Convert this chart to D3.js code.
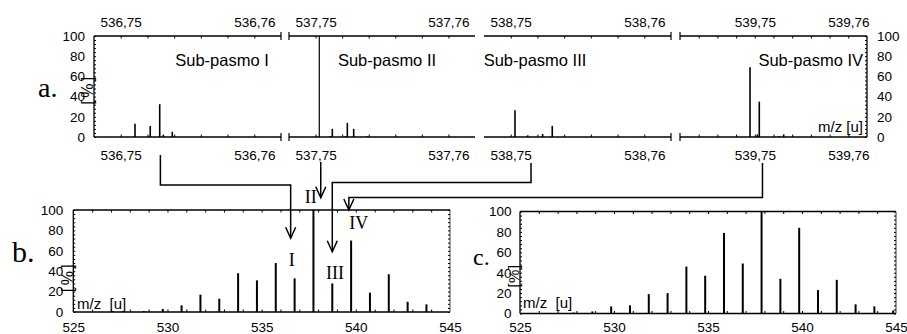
<!DOCTYPE html>
<html><head><meta charset="utf-8">
<script src="https://cdn.jsdelivr.net/npm/d3@7"></script>
<style>body{margin:0;background:#fff}svg{display:block}</style></head>
<body>
<script>
// ---------- DATA ----------
const seg1Mz  = [536.75107, 536.75221, 536.75292, 536.75319, 536.75386];
const seg1Int = [13, 10.8, 32.5, 2.3, 5.2];
const seg2Mz  = [537.75028, 537.75109, 537.75126, 537.75224, 537.75239, 537.75287, 537.75387];
const seg2Int = [100, 1, 8, 1, 14, 8, 0.7];
const seg3Mz  = [538.75032, 538.75127, 538.75239, 538.75311];
const seg3Int = [26.5, 1.7, 3, 11];
const seg4Mz  = [539.74949, 539.75027, 539.75048, 539.75262, 539.75309];
const seg4Int = [69, 2.6, 35, 1, 2.6];
const subTitles = ["Sub-pasmo I", "Sub-pasmo II", "Sub-pasmo III", "Sub-pasmo IV"];
const segTickValues = [[536.75, 536.76], [537.75, 537.76], [538.75, 538.76], [539.75, 539.76]];
const segTickLabels = [["536,75", "536,76"], ["537,75", "537,76"], ["538,75", "538,76"], ["539,75", "539,76"]];

const bMz  = [528.75, 529.75, 530.75, 531.75, 532.75, 533.75, 534.75, 535.75, 536.75, 537.75, 538.75, 539.75, 540.75, 541.75, 542.75, 543.75];
const bInt = [1, 3, 6.5, 17, 13, 38, 31, 48, 33, 100, 28, 70, 19, 37, 10, 7.5];
const cMz  = [527.85, 528.85, 529.85, 530.85, 531.85, 532.85, 533.85, 534.85, 535.85, 536.85, 537.85, 538.85, 539.85, 540.85, 541.85, 542.85, 543.85, 544.85];
const cInt = [1, 2, 7, 8, 19, 20, 46, 37, 79, 49, 100, 34, 84, 23, 33, 9, 7, 3];
const yTicks = [0, 20, 40, 60, 80, 100];
const mzTicks = [525, 530, 535, 540, 545];
const romanLabels = ["I", "II", "III", "IV"];
const yUnit = "[%]";
const xUnit = "m/z [u]";
const xUnitBottom = "m/z  [u]";
const panelLetters = ["a.", "b.", "c."];

// ---------- SETUP ----------
const W = 907, H = 334;
const sans = "'Liberation Sans', Arial, sans-serif";
const serif = "'Liberation Serif', 'Times New Roman', serif";
const svg = d3.select("body").append("svg").attr("width", W).attr("height", H);
svg.append("rect").attr("width", W).attr("height", H).attr("fill", "#fff");

function fixAxis(g, fs) {
  g.attr("font-size", null).attr("font-family", null);
  g.select(".domain").remove();
  g.selectAll("text").attr("font-size", fs).attr("font-family", sans).attr("fill", "#000");
  g.selectAll("line").attr("stroke", "#000").attr("stroke-width", 1);
}
function hline(x0, x1, y, w, c) {
  svg.append("line").attr("x1", x0).attr("x2", x1).attr("y1", y).attr("y2", y)
    .attr("stroke", c || "#000").attr("stroke-width", w || 1.3);
}
function vline(x, y0, y1, w, c) {
  svg.append("line").attr("x1", x).attr("x2", x).attr("y1", y0).attr("y2", y1)
    .attr("stroke", c || "#000").attr("stroke-width", w || 1.3);
}

// ---------- TOP PANEL (a) ----------
const topYT = 36, topYB = 137;
const topY = d3.scaleLinear().domain([0, 100]).range([topYB, topYT]);
const segData = [[seg1Mz, seg1Int], [seg2Mz, seg2Int], [seg3Mz, seg3Int], [seg4Mz, seg4Int]];
const segDomains = [[536.748, 536.762], [537.748, 537.762], [538.748, 538.762], [539.742, 539.762]];
const segRanges = [[94, 281], [289, 475], [484, 671], [680, 867]];
const titleX = [222, 387, 535, 863];
const titleAnchor = ["middle", "middle", "middle", "end"];
const breakStart = [false, true, false, true];
const breakEnd = [true, false, true, false];
const segScales = [];

segData.forEach((sd, i) => {
  const dom = segDomains[i], rg = segRanges[i];
  const xs = d3.scaleLinear().domain(dom).range(rg);
  segScales.push(xs);
  hline(rg[0], rg[1], topYT);
  hline(rg[0], rg[1], topYB);
  // minor ticks
  const nMin = Math.round((dom[1] - dom[0]) / 0.002);
  const minors = d3.range(1, nMin).map(k => dom[0] + k * 0.002);
  const gm1 = svg.append("g").attr("transform", `translate(0,${topYT})`)
    .call(d3.axisBottom(xs).tickValues(minors).tickSize(2.5).tickFormat(""));
  fixAxis(gm1, 13.5);
  const gm2 = svg.append("g").attr("transform", `translate(0,${topYB})`)
    .call(d3.axisTop(xs).tickValues(minors).tickSize(2.5).tickFormat(""));
  fixAxis(gm2, 13.5);
  // major labels
  const gt = svg.append("g").attr("transform", `translate(0,${topYT})`)
    .call(d3.axisTop(xs).tickValues(segTickValues[i]).tickSize(0).tickPadding(9)
      .tickFormat((d, k) => segTickLabels[i][k]));
  fixAxis(gt, 13.5);
  const gb = svg.append("g").attr("transform", `translate(0,${topYB})`)
    .call(d3.axisBottom(xs).tickValues(segTickValues[i]).tickSize(0).tickPadding(13)
      .tickFormat((d, k) => segTickLabels[i][k]));
  fixAxis(gb, 13.5);
  // breaks
  [topYT, topYB].forEach(yy => {
    if (breakStart[i]) vline(rg[0], yy - 4, yy + 4, 1.2);
    if (breakEnd[i]) vline(rg[1], yy - 4, yy + 4, 1.2);
  });
  // bars
  svg.append("g").selectAll("line").data(d3.zip(sd[0], sd[1])).join("line")
    .attr("x1", d => xs(d[0])).attr("x2", d => xs(d[0]))
    .attr("y1", topY(0)).attr("y2", d => topY(d[1]))
    .attr("stroke", "#000").attr("stroke-width", d => d[1] > 50 && i === 1 ? 1.2 : 1.6);
  // title
  svg.append("text").attr("x", titleX[i]).attr("y", 66).attr("text-anchor", titleAnchor[i])
    .attr("font-family", sans).attr("font-size", 16.5).text(subTitles[i]);
});

// left & right y axes of top panel
vline(94, topYT, topYB);
vline(867, topYT, topYB);
const minorY = d3.range(0, 101, 4);
{
  const g1 = svg.append("g").attr("transform", "translate(94,0)")
    .call(d3.axisLeft(topY).tickValues(yTicks).tickSize(0).tickPadding(9));
  fixAxis(g1, 13.5);
  const g2 = svg.append("g").attr("transform", "translate(94,0)")
    .call(d3.axisRight(topY).tickValues(minorY).tickSize(2).tickFormat(""));
  fixAxis(g2, 13.5);
  const g3 = svg.append("g").attr("transform", "translate(867,0)")
    .call(d3.axisRight(topY).tickValues(yTicks).tickSize(0).tickPadding(10));
  fixAxis(g3, 13.5);
  const g4 = svg.append("g").attr("transform", "translate(867,0)")
    .call(d3.axisLeft(topY).tickValues(minorY).tickSize(2).tickFormat(""));
  fixAxis(g4, 13.5);
}
svg.append("text").attr("transform", "translate(93,89.5) rotate(-90)").attr("text-anchor", "middle")
  .attr("font-family", sans).attr("font-size", 16).attr("letter-spacing", 2.5).text(yUnit);
svg.append("text").attr("x", 863).attr("y", 132).attr("text-anchor", "end")
  .attr("font-family", sans).attr("font-size", 15).text(xUnit);
svg.append("text").attr("x", 38).attr("y", 97).attr("font-family", serif).attr("font-size", 28).text(panelLetters[0]);

// ---------- BOTTOM PANELS ----------
function spectrum(xr, yr, mz, vals, opts) {
  const xs = d3.scaleLinear().domain([525, 545]).range(xr);
  const ys = d3.scaleLinear().domain([0, 100]).range(yr);
  // frame
  hline(xr[0], xr[1], yr[0]);
  hline(xr[0], xr[1], yr[1]);
  vline(xr[0], yr[1], yr[0]);
  vline(xr[1], yr[1], yr[0], 1.2, opts.rightColor);
  const units = d3.range(526, 545, 1);
  const g1 = svg.append("g").attr("transform", `translate(0,${yr[0]})`)
    .call(d3.axisTop(xs).tickValues(units).tickSize(2.5).tickFormat(""));
  fixAxis(g1, 13.5);
  const g2 = svg.append("g").attr("transform", `translate(0,${yr[1]})`)
    .call(d3.axisBottom(xs).tickValues(units).tickSize(2.5).tickFormat(""));
  fixAxis(g2, 13.5);
  const g3 = svg.append("g").attr("transform", `translate(0,${yr[0]})`)
    .call(d3.axisBottom(xs).tickValues(mzTicks).tickSize(0).tickPadding(opts.xPad));
  fixAxis(g3, 13.5);
  const g4 = svg.append("g").attr("transform", `translate(${xr[0]},0)`)
    .call(d3.axisLeft(ys).tickValues(yTicks).tickSize(0).tickPadding(opts.yPad));
  fixAxis(g4, 13.5);
  const g5 = svg.append("g").attr("transform", `translate(${xr[0]},0)`)
    .call(d3.axisRight(ys).tickValues(minorY).tickSize(2).tickFormat(""));
  fixAxis(g5, 13.5);
  const g6 = svg.append("g").attr("transform", `translate(${xr[1]},0)`)
    .call(d3.axisLeft(ys).tickValues(minorY).tickSize(2).tickFormat(""));
  fixAxis(g6, 13.5);
  // bars
  svg.append("g").selectAll("line").data(d3.zip(mz, vals)).join("line")
    .attr("x1", d => xs(d[0])).attr("x2", d => xs(d[0]))
    .attr("y1", ys(0)).attr("y2", d => ys(d[1]))
    .attr("stroke", "#000").attr("stroke-width", 2);
  return { xs, ys };
}

const B = spectrum([73.3, 450], [312, 210], bMz, bInt, { xPad: 10, yPad: 10, rightColor: "#666" });
const C = spectrum([520, 896], [313.5, 211.5], cMz, cInt, { xPad: 9, yPad: 8.5, rightColor: "#555" });

svg.append("text").attr("transform", "translate(73,277) rotate(-90)").attr("text-anchor", "middle")
  .attr("font-family", sans).attr("font-size", 16).attr("letter-spacing", 2.5).text(yUnit);
svg.append("text").attr("transform", "translate(519,276) rotate(-90)").attr("text-anchor", "middle")
  .attr("font-family", sans).attr("font-size", 15).attr("letter-spacing", 0.5).text(yUnit);
svg.append("text").attr("x", 77).attr("y", 309).attr("font-family", sans).attr("font-size", 15)
  .attr("xml:space", "preserve").style("white-space", "pre").text(xUnitBottom);
svg.append("text").attr("x", 523).attr("y", 308).attr("font-family", sans).attr("font-size", 15)
  .style("white-space", "pre").text(xUnitBottom);
svg.append("text").attr("x", 12).attr("y", 262).attr("font-family", serif).attr("font-size", 30).text(panelLetters[1]);
svg.append("text").attr("x", 473).attr("y", 265).attr("font-family", serif).attr("font-size", 24).text(panelLetters[2]);

// ---------- ARROWS ----------
// start points at top segments (m/z positions), end points at panel b (m/z positions)
const arrowFrom = [[0, 536.75297], [1, 537.75039], [2, 538.75152], [3, 539.75082]];
const arrowTo = [536.54, 538.14, 538.75, 539.63];
const arrowStartY = [155, 162, 163, 163];
const arrowElbowY = [185, null, 182.5, 197.5];
const arrowTipY = [238.3, 197.7, 251.7, 210];
const ag = svg.append("g").attr("fill", "none").attr("stroke", "#000").attr("stroke-width", 1.5);
arrowFrom.forEach((f, i) => {
  const x0 = segScales[f[0]](f[1]);
  const x1 = B.xs(arrowTo[i]);
  const p = d3.path();
  p.moveTo(x0, arrowStartY[i]);
  if (arrowElbowY[i] !== null) {
    p.lineTo(x0, arrowElbowY[i]);
    p.lineTo(x1, arrowElbowY[i]);
  }
  p.lineTo(x1, arrowTipY[i]);
  ag.append("path").attr("d", p.toString());
  const h = d3.path();
  h.moveTo(x1 - 5, arrowTipY[i] - 11);
  h.lineTo(x1, arrowTipY[i]);
  h.lineTo(x1 + 5, arrowTipY[i] - 11);
  ag.append("path").attr("d", h.toString());
});
// roman labels
const romanX = [291.7, 310.8, 335, 358.8];
const romanY = [266, 203, 279, 229];
romanLabels.forEach((r, i) => {
  svg.append("text").attr("x", romanX[i]).attr("y", romanY[i]).attr("text-anchor", "middle")
    .attr("font-family", serif).attr("font-size", 18).text(r);
});
</script>
</body></html>
